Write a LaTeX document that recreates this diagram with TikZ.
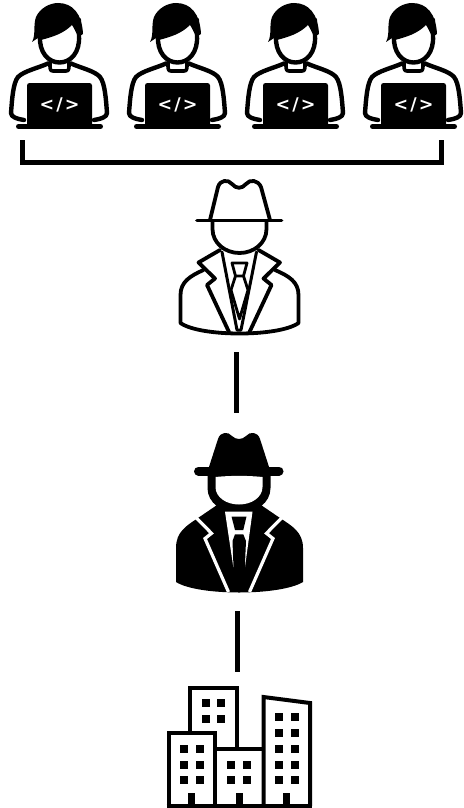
\documentclass[tikz,border=0pt]{standalone}
\usepackage{fontspec}
\setsansfont{DejaVu Sans}
\tikzset{
  x=1pt,y=-1pt,
  ln/.style={line width=#1,line join=round,line cap=round,black},
  bar/.style={line width=5pt,black},
  anchorbox/.style={inner sep=0pt,minimum width=#1,draw=none},
  pics/dev/.style={code={
    % body outline
    \draw[ln=4.4pt] (48,63.5) .. controls (38,68) and (24,71) .. (18,77) .. controls (13,83) and (12,100) .. (11,113) .. controls (11,117) and (17,119) .. (24,120);
    \draw[ln=4.4pt] (71,63.5) .. controls (81,68) and (95,71) .. (100,77) .. controls (105,83) and (106,100) .. (107,113) .. controls (107,117) and (101,119) .. (94,120);
    % collar
    \draw[ln=3.6pt] (50,63) .. controls (50,69) and (50,71) .. (53,71) -- (66,71) .. controls (69,71) and (69,69) .. (69,63);
    % face ring
    \draw[ln=4.4pt,fill=white] (40,36) .. controls (39,52) and (48,62.5) .. (59.5,62.5) .. controls (71,62.5) and (80,52) .. (79,36) -- (79,20) -- (40,20) -- cycle;
    % hair
    \fill[black] (32,42) .. controls (36,35) and (33,25) .. (36,17) .. controls (40,8) and (50,3) .. (58,3) .. controls (73,3) and (82,14) .. (83,34) -- (78,37) .. controls (76,32) and (74,28) .. (72,25) .. controls (63,34) and (52,37) .. (41,40) -- (41,36) .. controls (38,38) and (35,40) .. (32,42) -- cycle;
    % laptop
    \fill[black,rounded corners=2.5pt] (27,127) -- (27,83) -- (92,83) -- (92,127) -- cycle;
    \draw[ln=5pt] (18.5,126.5) -- (100.5,126.5);
    \node[text=white,font=\sffamily\bfseries,inner sep=0pt,scale=1.75] at (59.5,105) {<\hspace{0.12em}/\hspace{0.12em}>};
  }}
}
\begin{document}
\begin{tikzpicture}
\useasboundingbox (0,0) rectangle (463,808);
% developers
\node[anchorbox=98pt,minimum height=129pt] (dev1) at (59,66) {};
\node[anchorbox=98pt,minimum height=129pt] (dev2) at (177,66) {};
\node[anchorbox=98pt,minimum height=129pt] (dev3) at (295,66) {};
\node[anchorbox=98pt,minimum height=129pt] (dev4) at (413,66) {};
\pic at (0,0) {dev};
\pic at (118,0) {dev};
\pic at (236,0) {dev};
\pic at (354,0) {dev};
% bracket
\coordinate (bl) at (22,140);
\coordinate (br) at (441,140);
\draw[bar,line join=miter] (bl) -- (22,162) -- (441,162) -- (br);
% white spy
\node[anchorbox=122pt,minimum height=155pt] (spyA) at (239,257) {};
\draw[ln=3.8pt,fill=white] (203.5,270) .. controls (190,276) and (180.5,282) .. (180.5,295) -- (180.5,323) .. controls (200,337) and (279,337) .. (298.5,323) -- (298.5,295) .. controls (298.5,282) and (289,276) .. (275,270);
\draw[ln=3.8pt] (210,220) -- (218,187) .. controls (220,180) and (228,179) .. (232,184) .. controls (236,189) and (242,189) .. (246,184) .. controls (250,179) and (258,180) .. (261,187) -- (270,220);
\draw[ln=3.8pt] (197,220.5) -- (281.5,220.5);
\draw[ln=3.8pt] (212.5,221) -- (212.5,229) .. controls (212.5,243) and (225,253) .. (239.5,253) .. controls (254,253) and (266.5,243) .. (266.5,229) -- (266.5,221);
\draw[ln=3.8pt] (220,250) -- (198.5,262.5) -- (215,278.5) -- (207,285) -- (229,332);
\draw[ln=3.8pt] (258.5,250) -- (280,262.5) -- (263.5,278.5) -- (271.5,285) -- (249.5,332);
\draw[ln=3pt] (222,252) -- (237,330) -- (241,330) -- (256.5,252);
\draw[ln=2.8pt] (232,263) -- (247,263) -- (243.5,276) -- (235.5,276) -- cycle;
\draw[ln=2.8pt] (235.5,276) -- (231,290) -- (239.5,319) -- (248,290) -- (243.5,276);
% black spy
\node[anchorbox=128pt,minimum height=160pt] (spyB) at (239,512) {};
\fill[black] (176,548) .. controls (176,532) and (186,526) .. (198,518) -- (220,503) -- (258,503) -- (280,518) .. controls (292,526) and (303,532) .. (303,548) -- (303,582) .. controls (280,596) and (198,596) .. (176,582) -- cycle;
\fill[black] (208,470) -- (218,439) .. controls (220,432) and (228,431) .. (232,436) .. controls (236,440) and (242,440) .. (246,436) .. controls (250,431) and (258,432) .. (260,439) -- (270,470) -- cycle;
\draw[ln=9pt] (198.5,471) -- (279,471);
\fill[black] (207.5,474) -- (207.5,488) .. controls (207.5,503) and (222,513) .. (239,513) .. controls (256,513) and (270.5,503) .. (270.5,488) -- (270.5,474) -- cycle;
\fill[white] (215.5,477) .. controls (230,475.5) and (248,475.5) .. (262.5,477) -- (262.5,487) .. controls (262.5,497) and (252,504.5) .. (239,504.5) .. controls (226,504.5) and (215.5,497) .. (215.5,487) -- cycle;
\draw[white,line width=3.2pt,line join=miter] (196,517.5) -- (211.5,533.3) -- (205,538.5) -- (228.5,592);
\draw[white,line width=3.2pt,line join=miter] (282,517.5) -- (266.5,533.3) -- (273,538.5) -- (249.5,592);
\fill[white] (225,511.7) -- (252.5,511.7) -- (245,567) -- (233.3,567) -- cycle;
\fill[black] (231.5,516.5) -- (246.5,516.5) -- (243.3,530) -- (235,530) -- cycle;
\fill[black] (235,534.3) -- (243.3,534.3) -- (246,541) -- (244.7,570) -- (233.6,570) -- (232.5,541) -- cycle;
% city
\node[anchorbox=146pt,minimum height=122pt] (city) at (239,747) {};
\begin{scope}[ln=4pt,line cap=butt,line join=miter]
\draw (190,733) -- (190,687.5) -- (237,687.5) -- (237,748);
\draw (168.5,806) -- (168.5,733) -- (215,733) -- (215,806);
\draw (215,749) -- (263,749);
\draw (263.5,806) -- (263.5,697) -- (310,703) -- (310,806);
\draw (166.5,806) -- (312,806);
\end{scope}
\foreach \x/\y in {206/702.7,221/702.7,206/719,221/719,
  184/749,200/749,184/764.5,200/764.5,184/780,200/780,
  231/765,247/765,231/780,247/780,
  279/716.7,295/716.7,279/732.7,295/732.7,279/748.7,295/748.7,279/764.5,295/764.5,279/780,295/780}
  \fill[black] (\x-4,\y-4) rectangle (\x+4,\y+4);
\foreach \x in {191.7,239.3,286.7}
  \fill[black] (\x-3.7,792.7) rectangle (\x+3.7,806);
% connectors
\coordinate (c1) at (236.5,352);
\coordinate (c2) at (236.5,413);
\coordinate (c3) at (237.5,611);
\coordinate (c4) at (237.5,672);
\draw[line width=5pt] (c1) -- (c2);
\draw[line width=5pt] (c3) -- (c4);
\end{tikzpicture}
\end{document}
